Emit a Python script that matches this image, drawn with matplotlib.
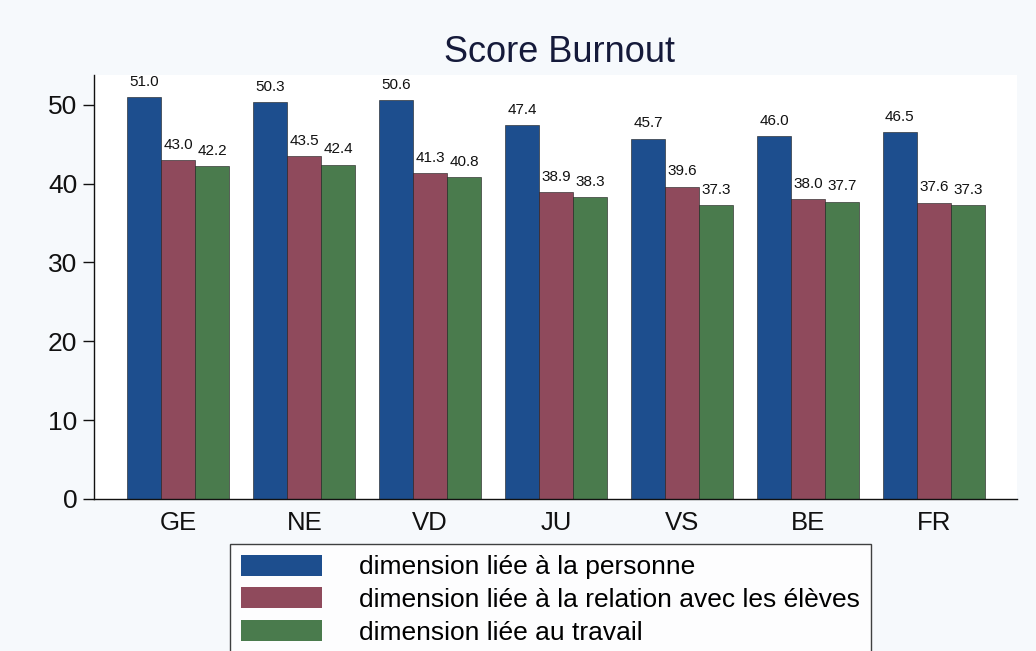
import matplotlib
matplotlib.use("Agg")
import matplotlib.pyplot as plt
import numpy as np
from matplotlib.patches import Patch

plt.rcParams['font.family'] = ['Liberation Sans', 'DejaVu Sans']

cantons = ["GE", "NE", "VD", "JU", "VS", "BE", "FR"]
personne = [51.0, 50.3, 50.6, 47.4, 45.7, 46.0, 46.5]
relation = [43.0, 43.5, 41.3, 38.9, 39.6, 38.0, 37.6]
travail = [42.2, 42.4, 40.8, 38.3, 37.3, 37.7, 37.3]
series_labels = ["dimension liée à la personne",
                 "dimension liée à la relation avec les élèves",
                 "dimension liée au travail"]
colors = ["#1d4e8e", "#8f4a5c", "#4a7b4d"]
title = "Score Burnout"

fig = plt.figure(figsize=(10.36, 6.51), dpi=100)
fig.patch.set_facecolor("#f6f9fc")
ax = fig.add_axes([0.0907, 0.2335, 0.891, 0.6515])
ax.set_facecolor("white")

x = np.arange(len(cantons))
w = 0.27
for i, (vals, c, lab) in enumerate(zip([personne, relation, travail], colors, series_labels)):
    pos = x + (i - 1) * w
    ax.bar(pos, vals, width=w, color=c, edgecolor="#1a1a1a", linewidth=0.4, label=lab)
    for xp, v in zip(pos, vals):
        ax.annotate(f"{v:.1f}", (xp, v), xytext=(0, 6), textcoords="offset points",
                    ha="center", va="bottom", fontsize=11, color="#111111")

ax.set_xlim(-0.67, 6.66)
ax.set_ylim(0, 53.8)
ax.set_yticks([0, 10, 20, 30, 40, 50])
ax.set_xticks(x)
ax.set_xticklabels(cantons)
ax.tick_params(axis="y", labelsize=19, length=8, width=1, direction="out", colors="#111111", pad=4)
ax.tick_params(axis="x", labelsize=18.5, length=0, pad=9, colors="#111111")
for s in ["top", "right"]:
    ax.spines[s].set_visible(False)
for s in ["left", "bottom"]:
    ax.spines[s].set_linewidth(1)
    ax.spines[s].set_color("#111111")

fig.text(0.540, 0.919, title, ha="center", va="center", fontsize=26, color="#151a3a")

handles = [Patch(facecolor=c, edgecolor="none") for c in colors]
leg = fig.legend(handles, series_labels, loc="upper left", bbox_to_anchor=(0.222, 0.164),
                 fontsize=19, frameon=True, fancybox=False, edgecolor="#111111",
                 handlelength=3.1, handleheight=0.85, labelspacing=0.3, handletextpad=1.4,
                 borderpad=0.4, borderaxespad=0)
leg.get_frame().set_linewidth(1)

fig.savefig("out.png", dpi=100, facecolor=fig.get_facecolor())
